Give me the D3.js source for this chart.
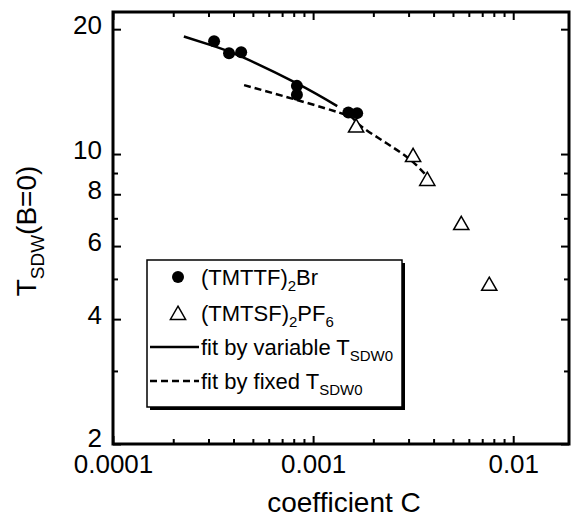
<!DOCTYPE html>
<html>
<head>
<meta charset="utf-8">
<script src="https://cdn.jsdelivr.net/npm/d3@7"></script>
<style>
  body { margin: 0; background: #fff; }
  svg { font-family: "Liberation Sans", Arial, sans-serif; }
  .axis path { display: none; }
  .axis line { stroke: #000; stroke-width: 2px; }
  .axis text { font-size: 26px; fill: #000; }
</style>
</head>
<body>
<svg width="573" height="517"></svg>
<script>
// (TMTTF)2Br points
var brC = [3.2e-4, 3.8e-4, 4.37e-4, 8.3e-4, 8.3e-4, 1.5e-3, 1.66e-3]
var brT = [18.7, 17.5, 17.6, 14.6, 13.9, 12.6, 12.55]
// (TMTSF)2PF6 points
var pf6C = [1.64e-3, 3.16e-3, 3.72e-3, 5.5e-3, 7.59e-3]
var pf6T = [11.58, 9.83, 8.61, 6.74, 4.81]
// fit by variable TSDW0
var varFitC = [2.26e-4, 3.2e-4, 4.47e-4, 8.3e-4, 1.32e-3]
var varFitT = [19.2, 18.2, 17.1, 14.8, 13.05]
// fit by fixed TSDW0
var fixFitC = [4.52e-4, 8.3e-4, 1.48e-3, 1.66e-3, 2.34e-3, 3.16e-3, 3.98e-3]
var fixFitT = [14.66, 13.5, 12.4, 11.87, 10.6, 9.56, 8.5]

var xMajor = [1e-4, 1e-3, 1e-2]
var xMajorLabels = ["0.0001", "0.001", "0.01"]
var yMajor = [2, 4, 6, 8, 10, 20]
var yMinor = [3, 5, 7, 9]

var svg = d3.select("svg")
var margin = {top: 12, right: 4, bottom: 73, left: 113},
    width = 573 - margin.left - margin.right,
    height = 517 - margin.top - margin.bottom

var x = d3.scaleLog().domain([1e-4, 0.019]).range([margin.left, margin.left + width])
var y = d3.scaleLog().domain([2, 22]).range([margin.top + height, margin.top])

// minor x ticks: 2..9 of each decade inside the domain
var xMinor = []
for (var e = -4; e <= -2; e++) for (var m = 2; m < 10; m++) {
    var v = m * Math.pow(10, e)
    if (v <= 0.019) xMinor.push(v)
}

function addAxis(axis, tx, ty){
    return svg.append("g").attr("class", "axis")
        .attr("transform", "translate(" + tx + "," + ty + ")")
        .call(axis)
}

var bottom = margin.top + height, right = margin.left + width

addAxis(d3.axisBottom(x).tickValues(xMajor).tickSize(-8).tickPadding(11)
    .tickFormat(function(d, i){ return xMajorLabels[i] }), 0, bottom)
addAxis(d3.axisBottom(x).tickValues(xMinor).tickSize(-5).tickFormat(""), 0, bottom)
addAxis(d3.axisTop(x).tickValues(xMajor).tickSize(-8).tickFormat(""), 0, margin.top)
addAxis(d3.axisTop(x).tickValues(xMinor).tickSize(-5).tickFormat(""), 0, margin.top)

addAxis(d3.axisLeft(y).tickValues(yMajor).tickSize(-8).tickPadding(11)
    .tickFormat(d3.format("d")), margin.left, 0)
    .selectAll("text").attr("dy", function(d){ return d == 2 ? "0.08em" : "0.17em" })
addAxis(d3.axisLeft(y).tickValues(yMinor).tickSize(-5).tickFormat(""), margin.left, 0)
addAxis(d3.axisRight(y).tickValues(yMajor).tickSize(-8).tickFormat(""), right, 0)
addAxis(d3.axisRight(y).tickValues(yMinor).tickSize(-5).tickFormat(""), right, 0)

// frame
svg.append("rect")
    .attr("x", margin.left).attr("y", margin.top)
    .attr("width", width).attr("height", height)
    .attr("fill", "none").attr("stroke", "#000").attr("stroke-width", 3)

// fit lines
var line = d3.line()
    .x(function(d){ return x(d[0]) })
    .y(function(d){ return y(d[1]) })
    .curve(d3.curveNatural)

svg.append("path")
    .datum(d3.zip(varFitC, varFitT))
    .attr("fill", "none").attr("stroke", "#000").attr("stroke-width", 2.5)
    .attr("d", line)

svg.append("path")
    .datum(d3.zip(fixFitC, fixFitT))
    .attr("fill", "none").attr("stroke", "#000").attr("stroke-width", 2.5)
    .attr("stroke-dasharray", "7,4")
    .attr("d", line)

// points
svg.selectAll(".br").data(d3.zip(brC, brT)).enter()
    .append("circle").attr("class", "br")
    .attr("cx", function(d){ return x(d[0]) })
    .attr("cy", function(d){ return y(d[1]) })
    .attr("r", 6).attr("fill", "#000")

var tri = d3.symbol().type(d3.symbolTriangle).size(100)
svg.selectAll(".pf6").data(d3.zip(pf6C, pf6T)).enter()
    .append("path").attr("class", "pf6")
    .attr("transform", function(d){ return "translate(" + x(d[0]) + "," + y(d[1]) + ")" })
    .attr("d", tri)
    .attr("fill", "#fff").attr("stroke", "#000").attr("stroke-width", 1.5)

// legend
var lg = svg.append("g").attr("transform", "translate(147,260)")
lg.append("rect").attr("x", 3).attr("y", 3).attr("width", 255).attr("height", 147).attr("fill", "#000")
lg.append("rect").attr("x", 0).attr("y", 0).attr("width", 255).attr("height", 147)
    .attr("fill", "#fff").attr("stroke", "#000").attr("stroke-width", 1.5)

lg.append("circle").attr("cx", 31).attr("cy", 17).attr("r", 6).attr("fill", "#000")
lg.append("path").attr("transform", "translate(31,55)").attr("d", tri)
    .attr("fill", "#fff").attr("stroke", "#000").attr("stroke-width", 1.5)
lg.append("line").attr("x1", 3).attr("x2", 52).attr("y1", 87).attr("y2", 87)
    .attr("stroke", "#000").attr("stroke-width", 2.5)
lg.append("line").attr("x1", 3).attr("x2", 52).attr("y1", 121).attr("y2", 121)
    .attr("stroke", "#000").attr("stroke-width", 2.5).attr("stroke-dasharray", "7,4")

function legendText(yPos, parts){
    var t = lg.append("text").attr("x", 54).attr("y", yPos).attr("font-size", 22)
    parts.forEach(function(p){
        var s = t.append("tspan").text(p[0])
        if (p[1]) s.attr("font-size", 15).attr("dy", 6)
        if (p[2]) s.attr("dy", -6)
    })
}
legendText(25, [["(TMTTF)"], ["2", true], ["Br", false, true]])
legendText(61, [["(TMTSF)"], ["2", true], ["PF", false, true], ["6", true]])
legendText(95, [["fit by variable T"], ["SDW0", true]])
legendText(129, [["fit by fixed T"], ["SDW0", true]])

// axis titles
svg.append("text").attr("x", 344).attr("y", 512)
    .attr("text-anchor", "middle").attr("font-size", 28).text("coefficient C")

var yt = svg.append("text")
    .attr("transform", "translate(36,231) rotate(-90)")
    .attr("text-anchor", "middle").attr("font-size", 28)
yt.append("tspan").text("T")
yt.append("tspan").text("SDW").attr("font-size", 19).attr("dy", 8)
yt.append("tspan").text("(B=0)").attr("dy", -8)
</script>
</body>
</html>
